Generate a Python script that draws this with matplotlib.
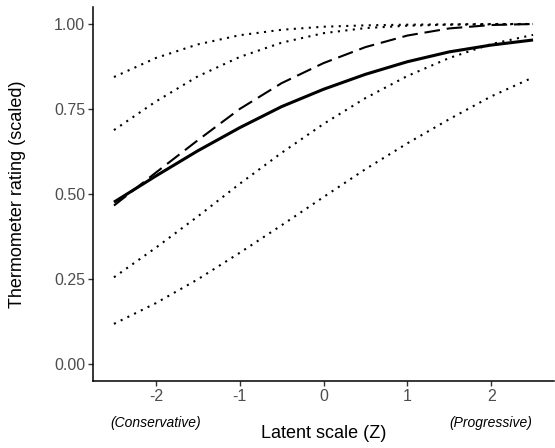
import matplotlib
matplotlib.use('Agg')
import matplotlib.pyplot as plt
import matplotlib.transforms as mtransforms

# === DATA ===
z = [-2.5, -2.0, -1.5, -1.0, -0.5, 0.0, 0.5, 1.0, 1.5, 2.0, 2.5]

# main estimate (solid) and comparison curve (dashed)
rating_mean = [0.476, 0.553, 0.627, 0.695, 0.757, 0.808, 0.852, 0.889, 0.918, 0.938, 0.953]
rating_alt = [0.466, 0.563, 0.658, 0.750, 0.826, 0.885, 0.932, 0.966, 0.987, 0.997, 1.000]

# dotted reference curves (top to bottom)
dotted_1 = [0.844, 0.900, 0.940, 0.967, 0.983, 0.992, 0.996, 0.998, 0.999, 1.000, 1.000]
dotted_2 = [0.688, 0.772, 0.846, 0.903, 0.945, 0.973, 0.988, 0.995, 0.998, 0.999, 1.000]
dotted_3 = [0.255, 0.342, 0.434, 0.530, 0.621, 0.706, 0.782, 0.847, 0.900, 0.941, 0.968]
dotted_4 = [0.118, 0.179, 0.249, 0.327, 0.408, 0.491, 0.573, 0.649, 0.720, 0.787, 0.843]

x_ticks = [-2, -1, 0, 1, 2]
y_ticks = [0.00, 0.25, 0.50, 0.75, 1.00]
end_labels = {-2: '(Conservative)', 2: '(Progressive)'}

# === PLOT ===
plt.rcParams['font.family'] = ['Liberation Sans', 'DejaVu Sans']

W, H = 555, 448
fig = plt.figure(figsize=(W / 100, H / 100), dpi=100)
ax = fig.add_axes([93 / W, 1 - 381 / H, (554 - 93) / W, (381 - 7) / H])

dot_style = (0, (1, 2.6))
for ys in [dotted_1, dotted_2, dotted_3, dotted_4]:
    ax.plot(z, ys, color='black', lw=1.5, linestyle=dot_style)

ax.plot(z, rating_alt, color='black', lw=1.5, linestyle=(0, (7.5, 3.3)))
ax.plot(z, rating_mean, color='black', lw=2.2, solid_capstyle='butt')

ax.set_xlim(-2.75, 2.75)
ax.set_ylim(-0.05, 1.05)
ax.set_xticks(x_ticks)
ax.set_xticklabels([str(t) for t in x_ticks])
ax.set_yticks(y_ticks)
ax.set_yticklabels([f'{t:.2f}' for t in y_ticks])

for side in ['top', 'right']:
    ax.spines[side].set_visible(False)
for side in ['left', 'bottom']:
    ax.spines[side].set_linewidth(1.1)
    ax.spines[side].set_color('black')

ax.tick_params(axis='both', length=3.5, width=1.0, color='#333333',
               labelcolor='#4D4D4D', labelsize=11.5, pad=2)

# axis titles placed where the reference has them
fig.text(323.5 / W, 1 - 433 / H, 'Latent scale (Z)', fontsize=13,
         ha='center', va='center', color='black')
fig.text(18 / W, 1 - 194 / H, 'Thermometer rating (scaled)', fontsize=13,
         ha='center', va='center', rotation=90, color='black')

# italic end labels under the x axis
trans = mtransforms.blended_transform_factory(ax.transData, fig.transFigure)
for xpos, txt in end_labels.items():
    ax.text(xpos, 1 - 423 / H, txt, transform=trans, ha='center', va='center',
            fontsize=10, fontstyle='italic', color='black', clip_on=False)

fig.savefig('out.png', dpi=100)
